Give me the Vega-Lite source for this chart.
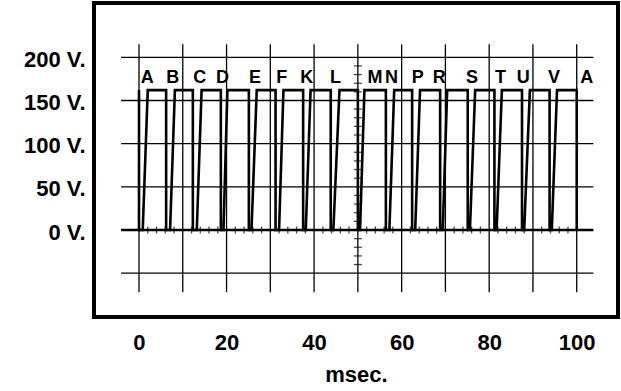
{
  "$schema": "https://vega.github.io/schema/vega-lite/v6.json",
  "width": 524,
  "height": 314,
  "autosize": {"type": "none"},
  "padding": {"left": 94, "top": 3, "right": 3, "bottom": 74},
  "background": "white",
  "config": {
    "view": {"stroke": "black", "strokeWidth": 4},
    "font": "Liberation Sans"
  },
  "datasets": {
    "wave": [
      {"i": 0, "t": 0, "v": 162}, {"i": 1, "t": 0, "v": 0}, {"i": 2, "t": 0.85, "v": 0}, {"i": 3, "t": 2.0, "v": 162},
      {"i": 4, "t": 6.2, "v": 162}, {"i": 5, "t": 6.2, "v": 0}, {"i": 6, "t": 7.1, "v": 0}, {"i": 7, "t": 8.2, "v": 162},
      {"i": 8, "t": 12.3, "v": 162}, {"i": 9, "t": 12.3, "v": 0}, {"i": 10, "t": 13.2, "v": 0}, {"i": 11, "t": 14.3, "v": 162},
      {"i": 12, "t": 18.7, "v": 162}, {"i": 13, "t": 18.7, "v": 0}, {"i": 14, "t": 19.3, "v": 0}, {"i": 15, "t": 20.2, "v": 162},
      {"i": 16, "t": 25.1, "v": 162}, {"i": 17, "t": 25.1, "v": 0}, {"i": 18, "t": 25.7, "v": 0}, {"i": 19, "t": 26.9, "v": 162},
      {"i": 20, "t": 31.2, "v": 162}, {"i": 21, "t": 31.2, "v": 0}, {"i": 22, "t": 32.0, "v": 0}, {"i": 23, "t": 33.0, "v": 162},
      {"i": 24, "t": 37.5, "v": 162}, {"i": 25, "t": 37.5, "v": 0}, {"i": 26, "t": 38.1, "v": 0}, {"i": 27, "t": 39.2, "v": 162},
      {"i": 28, "t": 43.8, "v": 162}, {"i": 29, "t": 43.8, "v": 0}, {"i": 30, "t": 44.4, "v": 0}, {"i": 31, "t": 45.8, "v": 162},
      {"i": 32, "t": 50.0, "v": 162}, {"i": 33, "t": 50.0, "v": 0}, {"i": 34, "t": 50.5, "v": 0}, {"i": 35, "t": 51.5, "v": 162},
      {"i": 36, "t": 56.4, "v": 162}, {"i": 37, "t": 56.4, "v": 0}, {"i": 38, "t": 57.2, "v": 0}, {"i": 39, "t": 58.3, "v": 162},
      {"i": 40, "t": 62.4, "v": 162}, {"i": 41, "t": 62.4, "v": 0}, {"i": 42, "t": 63.1, "v": 0}, {"i": 43, "t": 64.2, "v": 162},
      {"i": 44, "t": 68.8, "v": 162}, {"i": 45, "t": 68.8, "v": 0}, {"i": 46, "t": 69.4, "v": 0}, {"i": 47, "t": 70.4, "v": 162},
      {"i": 48, "t": 75.1, "v": 162}, {"i": 49, "t": 75.1, "v": 0}, {"i": 50, "t": 75.6, "v": 0}, {"i": 51, "t": 76.8, "v": 162},
      {"i": 52, "t": 81.2, "v": 162}, {"i": 53, "t": 81.2, "v": 0}, {"i": 54, "t": 81.7, "v": 0}, {"i": 55, "t": 82.9, "v": 162},
      {"i": 56, "t": 87.5, "v": 162}, {"i": 57, "t": 87.5, "v": 0}, {"i": 58, "t": 88.0, "v": 0}, {"i": 59, "t": 89.3, "v": 162},
      {"i": 60, "t": 93.8, "v": 162}, {"i": 61, "t": 93.8, "v": 0}, {"i": 62, "t": 94.3, "v": 0}, {"i": 63, "t": 95.5, "v": 162},
      {"i": 64, "t": 100, "v": 162}, {"i": 65, "t": 100, "v": 0}
    ],
    "letters": [
      {"t": 1.9, "label": "A"}, {"t": 7.7, "label": "B"}, {"t": 13.9, "label": "C"}, {"t": 19.1, "label": "D"},
      {"t": 26.5, "label": "E"}, {"t": 32.6, "label": "F"}, {"t": 38.3, "label": "K"}, {"t": 44.9, "label": "L"},
      {"t": 53.9, "label": "M"}, {"t": 57.7, "label": "N"}, {"t": 63.7, "label": "P"}, {"t": 68.6, "label": "R"},
      {"t": 76.1, "label": "S"}, {"t": 82.6, "label": "T"}, {"t": 87.8, "label": "U"}, {"t": 94.8, "label": "V"},
      {"t": 102.3, "label": "A"}
    ],
    "vgrid": [
      {"t": 0}, {"t": 10}, {"t": 20}, {"t": 30}, {"t": 40}, {"t": 50},
      {"t": 60}, {"t": 70}, {"t": 80}, {"t": 90}, {"t": 100}
    ],
    "hgrid": [
      {"v": -50}, {"v": 50}, {"v": 100}, {"v": 150}, {"v": 200}
    ],
    "zero": [{"v": 0}],
    "xticks": [
      {"t": 2}, {"t": 4}, {"t": 6}, {"t": 8}, {"t": 12}, {"t": 14}, {"t": 16}, {"t": 18},
      {"t": 22}, {"t": 24}, {"t": 26}, {"t": 28}, {"t": 32}, {"t": 34}, {"t": 36}, {"t": 38},
      {"t": 42}, {"t": 44}, {"t": 46}, {"t": 48}, {"t": 52}, {"t": 54}, {"t": 56}, {"t": 58},
      {"t": 62}, {"t": 64}, {"t": 66}, {"t": 68}, {"t": 72}, {"t": 74}, {"t": 76}, {"t": 78},
      {"t": 82}, {"t": 84}, {"t": 86}, {"t": 88}, {"t": 92}, {"t": 94}, {"t": 96}, {"t": 98}
    ],
    "yticks": [
      {"v": -40}, {"v": -30}, {"v": -20}, {"v": -10}, {"v": 10}, {"v": 20}, {"v": 30}, {"v": 40},
      {"v": 60}, {"v": 70}, {"v": 80}, {"v": 90}, {"v": 110}, {"v": 120}, {"v": 130}, {"v": 140},
      {"v": 160}, {"v": 170}, {"v": 180}, {"v": 190}
    ]
  },
  "layer": [
    {
      "data": {"name": "wave"},
      "mark": {"type": "line", "color": "black", "strokeWidth": 2.6, "strokeJoin": "miter"},
      "encoding": {
        "x": {
          "field": "t",
          "type": "quantitative",
          "scale": {"domain": [-10.28, 109.43], "nice": false, "zero": false},
          "axis": {
            "values": [0, 20, 40, 60, 80, 100],
            "title": "msec.",
            "grid": false,
            "ticks": false,
            "domain": false,
            "labelFontSize": 22,
            "labelFontWeight": "bold",
            "labelColor": "black",
            "labelPadding": 15,
            "labelFlush": false,
            "labelOverlap": false,
            "titleFontSize": 22,
            "titleFontWeight": "bold",
            "titleColor": "black",
            "titlePadding": 11
          }
        },
        "y": {
          "field": "v",
          "type": "quantitative",
          "scale": {"domain": [-100.75, 262.9], "nice": false, "zero": false},
          "axis": {
            "values": [0, 50, 100, 150, 200],
            "labelExpr": "datum.value + ' V.'",
            "title": null,
            "grid": false,
            "ticks": false,
            "domain": false,
            "labelFontSize": 22,
            "labelFontWeight": "bold",
            "labelColor": "black",
            "labelPadding": 9,
            "labelOffset": 2,
            "labelOverlap": false
          }
        },
        "order": {"field": "i", "type": "quantitative"}
      }
    },
    {
      "data": {"name": "vgrid"},
      "mark": {"type": "rule", "color": "black", "strokeWidth": 1.3},
      "encoding": {
        "x": {"field": "t", "type": "quantitative", "scale": {"domain": [-10.28, 109.43], "nice": false, "zero": false}},
        "y": {"datum": -72, "scale": {"domain": [-100.75, 262.9], "nice": false, "zero": false}},
        "y2": {"datum": 215}
      }
    },
    {
      "data": {"name": "hgrid"},
      "mark": {"type": "rule", "color": "black", "strokeWidth": 1.3},
      "encoding": {
        "y": {"field": "v", "type": "quantitative", "scale": {"domain": [-100.75, 262.9], "nice": false, "zero": false}},
        "x": {"datum": -4.1, "scale": {"domain": [-10.28, 109.43], "nice": false, "zero": false}},
        "x2": {"datum": 103.8}
      }
    },
    {
      "data": {"name": "zero"},
      "mark": {"type": "rule", "color": "black", "strokeWidth": 2.5},
      "encoding": {
        "y": {"field": "v", "type": "quantitative", "scale": {"domain": [-100.75, 262.9], "nice": false, "zero": false}},
        "x": {"datum": -4.1, "scale": {"domain": [-10.28, 109.43], "nice": false, "zero": false}},
        "x2": {"datum": 103.8}
      }
    },
    {
      "data": {"name": "xticks"},
      "mark": {"type": "tick", "orient": "vertical", "size": 7, "thickness": 1.3, "color": "black"},
      "encoding": {
        "x": {"field": "t", "type": "quantitative", "scale": {"domain": [-10.28, 109.43], "nice": false, "zero": false}},
        "y": {"datum": 0, "scale": {"domain": [-100.75, 262.9], "nice": false, "zero": false}}
      }
    },
    {
      "data": {"name": "yticks"},
      "mark": {"type": "tick", "orient": "horizontal", "size": 8, "thickness": 1.3, "color": "black"},
      "encoding": {
        "y": {"field": "v", "type": "quantitative", "scale": {"domain": [-100.75, 262.9], "nice": false, "zero": false}},
        "x": {"datum": 50, "scale": {"domain": [-10.28, 109.43], "nice": false, "zero": false}}
      }
    },
    {
      "data": {"name": "letters"},
      "mark": {"type": "text", "fontSize": 18, "fontWeight": "bold", "color": "black", "align": "center", "baseline": "middle"},
      "encoding": {
        "x": {"field": "t", "type": "quantitative", "scale": {"domain": [-10.28, 109.43], "nice": false, "zero": false}},
        "y": {"datum": 176, "scale": {"domain": [-100.75, 262.9], "nice": false, "zero": false}},
        "text": {"field": "label"}
      }
    }
  ]
}
